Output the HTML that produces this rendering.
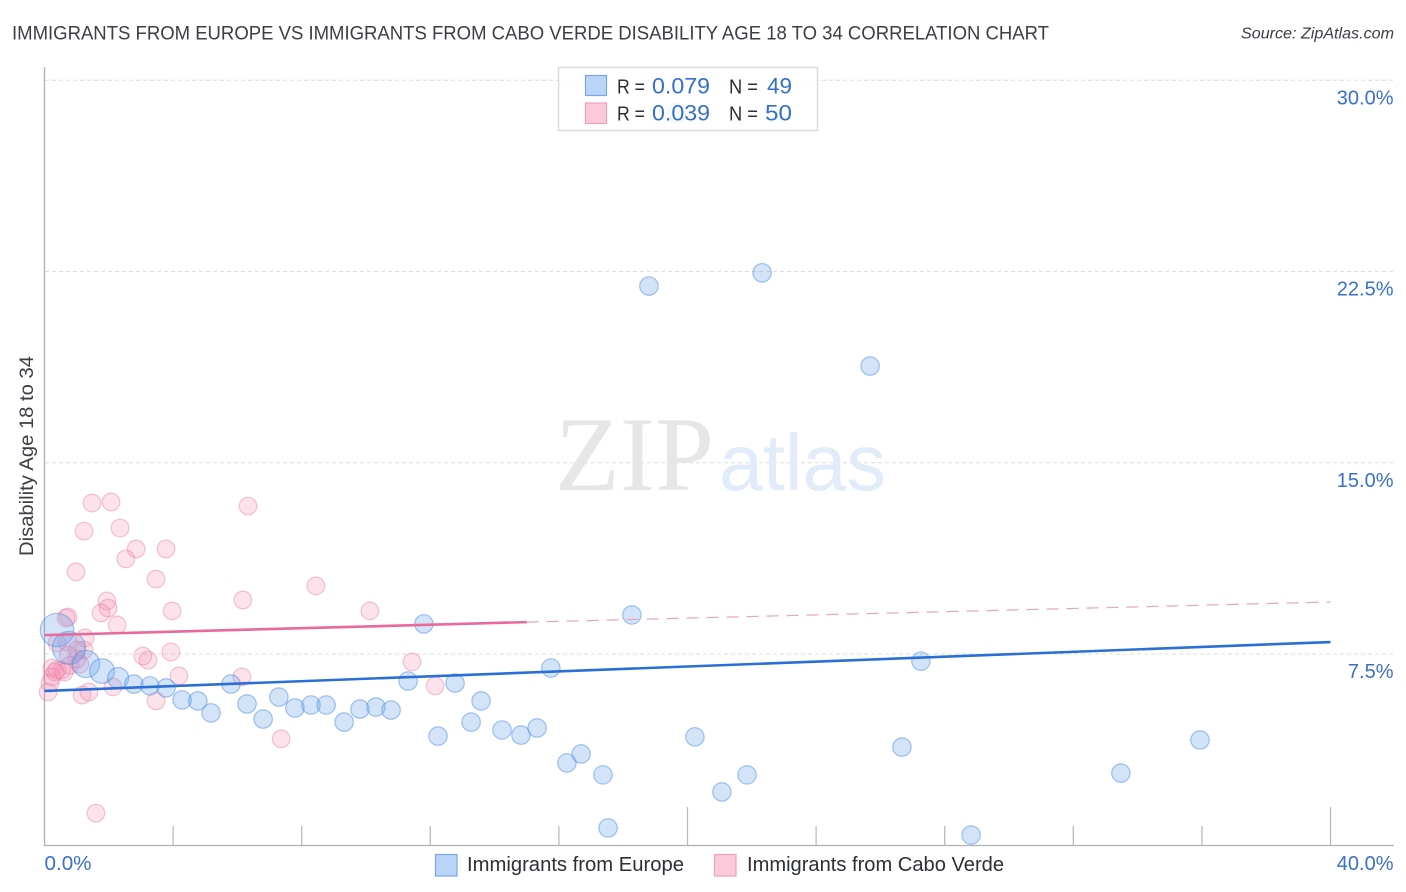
<!DOCTYPE html>
<html lang="en">
<head>
<meta charset="utf-8">
<title>Immigrants from Europe vs Immigrants from Cabo Verde Disability Age 18 to 34 Correlation Chart</title>
<style>
html,body{margin:0;padding:0;background:#fff;}
svg{display:block;font-family:"Liberation Sans",sans-serif;}
</style>
</head>
<body>
<svg id="chart" xmlns="http://www.w3.org/2000/svg" width="1406" height="892" viewBox="0 0 1406 892">
  <rect x="0" y="0" width="1406" height="892" fill="#ffffff"/>
  <text x="12" y="39.5" font-size="19.5" fill="#3a3e45" textLength="1037" lengthAdjust="spacingAndGlyphs">IMMIGRANTS FROM EUROPE VS IMMIGRANTS FROM CABO VERDE DISABILITY AGE 18 TO 34 CORRELATION CHART</text>
  <text x="1394" y="38.5" font-size="15.5" font-style="italic" fill="#3a3e45" text-anchor="end" textLength="153" lengthAdjust="spacingAndGlyphs">Source: ZipAtlas.com</text>
  <g id="grid"></g>
  <g>
    <text x="555" y="490" font-family="'Liberation Serif',serif" font-size="106" fill="#e6e6e6" textLength="159" lengthAdjust="spacingAndGlyphs">ZIP</text>
    <text x="719" y="490" font-size="80" fill="#e2ebf9" textLength="167" lengthAdjust="spacingAndGlyphs">atlas</text>
  </g>
  <g id="axes">
    <line x1="44.5" y1="67" x2="44.5" y2="846" stroke="#b0b0b0" stroke-width="1.3"/>
    <line x1="44" y1="845.5" x2="1394" y2="845.5" stroke="#b0b0b0" stroke-width="1.3"/>
  </g>
  <g id="pink-points"></g>
  <g id="blue-points"></g>
  <g id="trends"></g>
  <g id="tick-labels"></g>
  <text transform="translate(33,556) rotate(-90)" font-size="19" fill="#3a3e45" textLength="200" lengthAdjust="spacingAndGlyphs">Disability Age 18 to 34</text>
  <g>
    <rect x="558.5" y="67.5" width="259" height="63" fill="#ffffff" fill-opacity="0.82" stroke="#dddddd" stroke-width="1.5"/>
    <rect x="585.5" y="75.5" width="21" height="20" fill="#b9d4f7" stroke="#7ba6e2" stroke-width="1.2"/>
    <rect x="585.5" y="103" width="21" height="20.5" fill="#fbc9da" stroke="#eda0ba" stroke-width="1.2"/>
    <text x="617" y="93.5" font-size="20" fill="#2b2f36" textLength="28" lengthAdjust="spacingAndGlyphs">R =</text>
    <text x="652" y="93.5" font-size="22" fill="#3370cc" textLength="58" lengthAdjust="spacingAndGlyphs">0.079</text>
    <text x="729" y="93.5" font-size="20" fill="#2b2f36" textLength="29" lengthAdjust="spacingAndGlyphs">N =</text>
    <text x="767" y="93.5" font-size="22" fill="#3370cc" textLength="25" lengthAdjust="spacingAndGlyphs">49</text>
    <text x="617" y="120.5" font-size="20" fill="#2b2f36" textLength="28" lengthAdjust="spacingAndGlyphs">R =</text>
    <text x="652" y="120.5" font-size="22" fill="#3370cc" textLength="58" lengthAdjust="spacingAndGlyphs">0.039</text>
    <text x="729" y="120.5" font-size="20" fill="#2b2f36" textLength="29" lengthAdjust="spacingAndGlyphs">N =</text>
    <text x="765" y="120.5" font-size="22" fill="#3370cc" textLength="27" lengthAdjust="spacingAndGlyphs">50</text>
  </g>
  <g>
    <rect x="435.5" y="854.5" width="21.5" height="21.5" fill="#b9d4f7" stroke="#7ba6e2" stroke-width="1.2"/>
    <text x="467" y="871" font-size="20" fill="#2b2f36" textLength="217" lengthAdjust="spacingAndGlyphs">Immigrants from Europe</text>
    <rect x="714.5" y="854.5" width="21.5" height="21.5" fill="#fbc9da" stroke="#eda0ba" stroke-width="1.2"/>
    <text x="747" y="871" font-size="20" fill="#2b2f36" textLength="257" lengthAdjust="spacingAndGlyphs">Immigrants from Cabo Verde</text>
  </g>
</svg>
<script>
const xTicks = [0, 4, 8, 12, 16, 20, 24, 28, 32, 36, 40];
const xMajorTicks = [20, 40];
const xTickLabels = ["0.0%", "40.0%"];
const yTicks = [7.5, 15, 22.5, 30];
const yTickLabels = ["7.5%", "15.0%", "22.5%", "30.0%"];

const blueX = [0.39,0.76,1.29,1.79,2.29,2.78,3.28,3.78,4.28,4.77,5.18,5.80,6.30,6.80,7.29,7.79,8.29,8.76,9.32,9.81,10.31,10.78,11.31,11.80,12.24,12.77,13.27,13.58,14.23,14.82,15.32,15.75,16.25,16.69,17.37,17.53,18.27,18.80,19.67,20.23,21.07,21.85,22.32,25.68,26.67,27.26,28.82,33.48,35.94];
const blueY = [8.44,7.74,7.11,6.83,6.56,6.32,6.25,6.17,5.70,5.66,5.19,6.32,5.54,4.95,5.81,5.38,5.50,5.50,4.83,5.34,5.42,5.30,6.44,8.68,4.28,6.36,4.83,5.66,4.52,4.32,4.60,6.95,3.23,3.58,2.76,0.68,9.03,21.93,28.72,4.25,2.09,2.76,22.45,18.79,3.85,7.22,0.40,2.83,4.13];
const blueWeight = [3.3,3.2,2.2,1.8,1.3,1,1,1,1,1,1,1,1,1,1,1,1,1,1,1,1,1,1,1,1,1,1,1,1,1,1,1,1,1,1,1,1,1,1,1,1,1,1,1,1,1,1,1,1];

const pinkX = [1.48,2.07,6.33,1.23,2.35,2.85,2.53,3.78,0.98,3.47,6.17,3.97,1.94,1.98,1.76,0.73,0.67,2.26,1.26,3.06,3.22,3.93,4.18,6.14,2.13,1.17,1.38,0.11,8.44,10.12,11.43,12.15,7.36,1.60,3.47,0.39,0.70,1.01,1.01,0.73,0.23,0.39,0.54,0.17,0.61,0.23,0.79,0.33,1.23,1.10];
const pinkY = [13.42,13.46,13.30,12.32,12.44,11.62,11.23,11.62,10.72,10.44,9.62,9.19,9.58,9.30,9.11,8.95,8.91,8.64,8.13,7.42,7.26,7.58,6.64,6.60,6.21,5.89,6.01,6.01,10.17,9.19,7.19,6.25,4.17,1.26,5.66,7.93,7.97,7.66,7.30,7.46,6.95,6.87,6.87,6.36,6.79,6.60,7.06,6.79,7.66,7.10];

const blueTrendX = [0, 40];
const blueTrendY = [6.05, 7.97];
const pinkSolidX = [0, 15];
const pinkSolidY = [8.24, 8.75];
const pinkDashX = [15, 40];
const pinkDashY = [8.75, 9.54];

const SVG_NS = "http://www.w3.org/2000/svg";
const xScale = function (v) { return 44.5 + v * 32.15; };
const yScale = function (v) { return 845.25 - v * 25.5; };
const make = function (parentId, tag, props, content) {
  const el = document.createElementNS(SVG_NS, tag);
  Object.keys(props).forEach(function (k) { el.setAttribute(k, props[k]); });
  if (content !== undefined) { el.textContent = content; }
  document.getElementById(parentId).appendChild(el);
  return el;
};

yTicks.forEach(function (t, i) {
  const line = make("grid", "line", { x1: 45, x2: 1394, y1: yScale(t), y2: yScale(t), stroke: "#dddddd", "stroke-width": 1, "stroke-dasharray": "4 3" });
  
  
  const label = make("tick-labels", "text", { x: 1393.5, y: yScale(t) + 24, "text-anchor": "end", "font-size": 20, fill: "#3a70cc" }, yTickLabels[i]);
  
  
});

xTicks.forEach(function (t) {
  if (t === 0) { return; }
  const top = xMajorTicks.indexOf(t) >= 0 ? 807 : 826;
  const tick = make("axes", "line", { x1: xScale(t), x2: xScale(t), y1: top, y2: 845, stroke: "#bbbbbb", "stroke-width": 1.3 });
  
  
});

const xLabelStart = make("tick-labels", "text", { x: xScale(xTicks[0]), y: 870, "font-size": 20, fill: "#3a70cc", textLength: 47, lengthAdjust: "spacingAndGlyphs" }, xTickLabels[0]);


const xLabelEnd = make("tick-labels", "text", { x: 1393.5, y: 870, "text-anchor": "end", "font-size": 20, fill: "#3a70cc" }, xTickLabels[1]);



pinkX.forEach(function (v, i) {
  const dot = make("pink-points", "circle", { cx: xScale(v), cy: yScale(pinkY[i]), r: 8.8, fill: "#f48fb1", "fill-opacity": 0.26, stroke: "#e77fa3", "stroke-opacity": 0.45, "stroke-width": 1.2 });
  
  
});

blueX.forEach(function (v, i) {
  const dot = make("blue-points", "circle", { cx: xScale(v), cy: yScale(blueY[i]), r: 9.2 * Math.sqrt(blueWeight[i]), fill: "#6ea6ec", "fill-opacity": 0.3, stroke: "#4b8ae0", "stroke-opacity": 0.5, "stroke-width": 1.2 });
  
  
});

const pinkDash = make("trends", "line", { x1: xScale(pinkDashX[0]), y1: yScale(pinkDashY[0]), x2: xScale(pinkDashX[1]), y2: yScale(pinkDashY[1]), stroke: "#e9a3bd", "stroke-width": 1.2, "stroke-dasharray": "12 8" });


const pinkSolid = make("trends", "line", { x1: xScale(pinkSolidX[0]), y1: yScale(pinkSolidY[0]), x2: xScale(pinkSolidX[1]), y2: yScale(pinkSolidY[1]), stroke: "#e8699a", "stroke-width": 2.6 });


const blueTrend = make("trends", "line", { x1: xScale(blueTrendX[0]), y1: yScale(blueTrendY[0]), x2: xScale(blueTrendX[1]), y2: yScale(blueTrendY[1]), stroke: "#2a6fd6", "stroke-width": 2.6 });


</script>
</body>
</html>
